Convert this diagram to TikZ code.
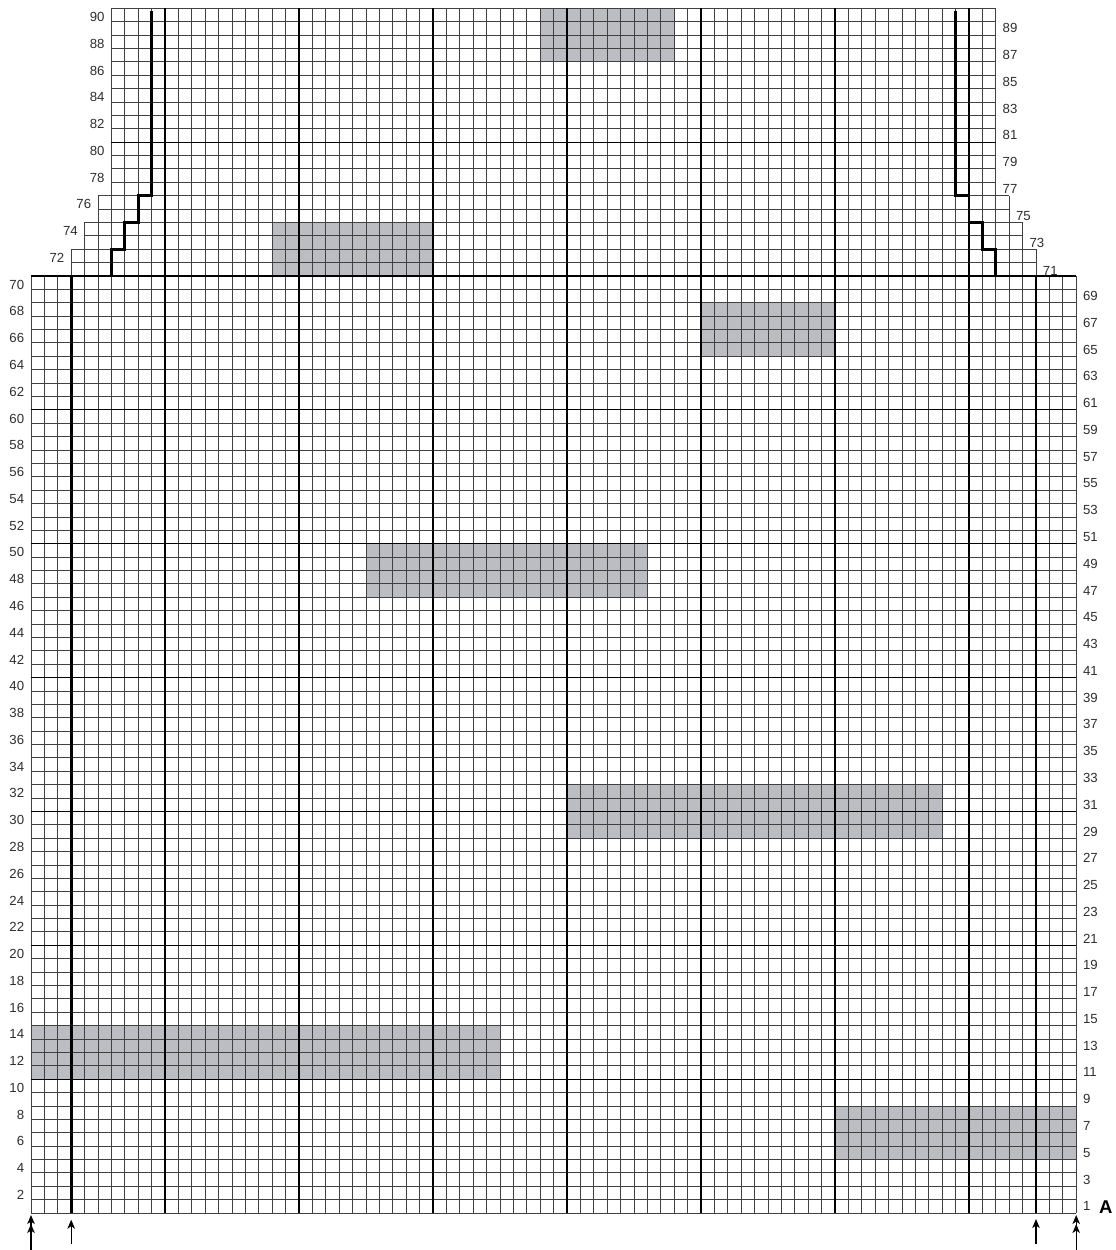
\documentclass[tikz,border=0pt]{standalone}
\usepackage{fontspec}
\setmainfont{Liberation Sans}
\usetikzlibrary{arrows.meta}
\definecolor{shadecol}{RGB}{188,189,194}
\begin{document}
\begin{tikzpicture}[x=13.4pt,y=13.386pt,
  gridline/.style={line width=0.8pt, black!75, step={(1,1)}},
  decade/.style={line width=1.15pt, black},
  heavy/.style={line width=2.8pt, black, line join=miter},
  shaded/.style={fill=shadecol},
  lbl/.style={inner sep=0pt, font=\fontsize{13.2}{15}\selectfont, text=black!82},
  lablft/.style={lbl, anchor=east},
  labrgt/.style={lbl, anchor=west},
  tip/.style={Stealth[length=9pt,width=7.5pt,inset=2.5pt]},
  marker/.style={line width=1.1pt, -{Stealth[length=9pt,width=7.5pt,inset=2.5pt]}},
  dmarker/.style={line width=1.1pt, -{Stealth[length=9pt,width=7.5pt,inset=2.5pt]Stealth[length=9pt,width=7.5pt,inset=2.5pt]}}]
\useasboundingbox (-2.3134,-2.7641) rectangle (80.970,90.617);
% shaded blocks
\fill[shaded] (38,86) rectangle (48,90);
\fill[shaded] (18,70) rectangle (30,74);
\fill[shaded] (50,64) rectangle (60,68);
\fill[shaded] (25,46) rectangle (46,50);
\fill[shaded] (40,28) rectangle (68,32);
\fill[shaded] (0,10) rectangle (35,14);
\fill[shaded] (60,4) rectangle (78,8);
% grid
\draw[gridline] (0,0) grid (78,70);
\draw[gridline] (3,70) grid (75,72);
\draw[gridline] (4,72) grid (74,74);
\draw[gridline] (5,74) grid (73,76);
\draw[gridline] (6,76) grid (72,90);
% decade lines
\foreach \c in {10,20,...,70} \draw[decade] (\c,0) -- (\c,90);
\foreach \r in {10,20,...,70} \draw[decade] (0,\r) -- (78,\r);
\draw[decade] (6,80) -- (72,80);
% heavy outlines
\draw[heavy] (3,0) -- (3,70) -- (6,70) -- (6,72) -- (7,72) -- (7,74) -- (8,74) -- (8,76) -- (9,76) -- (9,89.83);
\draw[heavy] (75,0) -- (75,70) -- (72,70) -- (72,72) -- (71,72) -- (71,74) -- (70,74) -- (70,76) -- (69,76) -- (69,89.83);
% left labels
\foreach \r in {2,4,...,70} \node[lablft] (L\r) at (-0.5,\r-0.65) {\r};
\node[lablft] (L72) at (2.5,71.35) {72};
\node[lablft] (L74) at (3.5,73.35) {74};
\node[lablft] (L76) at (4.5,75.35) {76};
\foreach \r in {78,80,...,90} \node[lablft] (L\r) at (5.5,\r-0.65) {\r};
% right labels
\foreach \r in {1,3,...,69} \node[labrgt] (R\r) at (78.5,\r-0.5) {\r};
\node[labrgt] (R71) at (75.5,70.4) {71};
\node[labrgt] (R73) at (74.5,72.45) {73};
\node[labrgt] (R75) at (73.5,74.45) {75};
\foreach \r in {77,79,...,89} \node[labrgt] (R\r) at (72.5,\r-0.5) {\r};
\node[anchor=west, inner sep=0pt, font=\bfseries\fontsize{18.5}{20}\selectfont] (A) at (79.7,0.47) {A};
% arrows
\coordinate (a1s) at (0,-2.8); \coordinate (a1t) at (0,-0.15);
\coordinate (a2s) at (3,-2.35); \coordinate (a2t) at (3,-0.5);
\coordinate (a3s) at (75,-2.35); \coordinate (a3t) at (75,-0.45);
\coordinate (a4s) at (78,-2.8); \coordinate (a4t) at (78,-0.15);
\draw[dmarker] (a1s) -- (a1t);
\draw[marker] (a2s) -- (a2t);
\draw[marker] (a3s) -- (a3t);
\draw[dmarker] (a4s) -- (a4t);
\end{tikzpicture}
\end{document}
